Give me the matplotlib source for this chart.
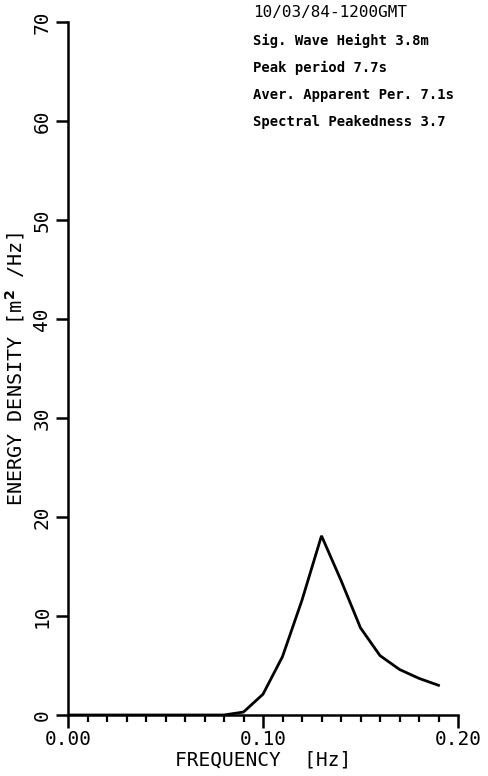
import matplotlib
matplotlib.use("Agg")
import matplotlib.pyplot as plt
from matplotlib.ticker import MultipleLocator

# spectrum
freq = [0.00, 0.01, 0.02, 0.03, 0.04, 0.05, 0.06, 0.07, 0.08, 0.09, 0.10,
        0.11, 0.12, 0.13, 0.14, 0.15, 0.16, 0.17, 0.18, 0.19]
energy = [0.0, 0.0, 0.0, 0.0, 0.0, 0.0, 0.0, 0.0, 0.0, 0.3, 2.1,
          5.9, 11.6, 18.1, 13.6, 8.8, 6.0, 4.6, 3.7, 3.0]

title = "10/03/84-1200GMT"
info = ["Sig. Wave Height 3.8m",
        "Peak period 7.7s",
        "Aver. Apparent Per. 7.1s",
        "Spectral Peakedness 3.7"]

font = "DejaVu Sans Mono"

fig = plt.figure(figsize=(4.88, 7.76), dpi=100)
ax = fig.add_axes([68 / 488, 61 / 776, 390 / 488, 693 / 776])

ax.plot(freq, energy, color="black", lw=2.0, solid_joinstyle="miter")

ax.set_xlim(0, 0.20)
ax.set_ylim(0, 70)
ax.spines["top"].set_visible(False)
ax.spines["right"].set_visible(False)
for s in ("left", "bottom"):
    ax.spines[s].set_linewidth(1.8)

ax.xaxis.set_major_locator(MultipleLocator(0.10))
ax.xaxis.set_minor_locator(MultipleLocator(0.01))
ax.tick_params(axis="x", which="major", direction="out", length=9, width=1.8,
               labelsize=14, pad=2)
ax.tick_params(axis="x", which="minor", direction="out", length=5, width=1.6)
ax.tick_params(axis="y", which="major", direction="out", length=9, width=1.8,
               labelsize=14, pad=3)
ax.set_xticks([0.0, 0.10, 0.20])
ax.set_xticklabels(["0.00", "0.10", "0.20"], family=font)
ax.set_yticks(range(0, 71, 10))
ax.set_yticklabels([str(v) for v in range(0, 71, 10)], family=font,
                   rotation=90, va="center")

ax.set_xlabel("FREQUENCY  [Hz]", family=font, fontsize=14, labelpad=1)
ax.set_ylabel("ENERGY DENSITY [m$^\\mathbf{2}$ /Hz]", family=font,
              fontsize=14.5, labelpad=4)

fig.text(253 / 488, 1 - 12 / 776, title, family=font, fontsize=11.5,
         va="center", ha="left")
for i, line in enumerate(info):
    fig.text(253 / 488, 1 - (41 + 27 * i) / 776, line, family=font,
             fontsize=10, fontweight="bold", va="center", ha="left")

fig.savefig("out.png", dpi=100, facecolor="white")
